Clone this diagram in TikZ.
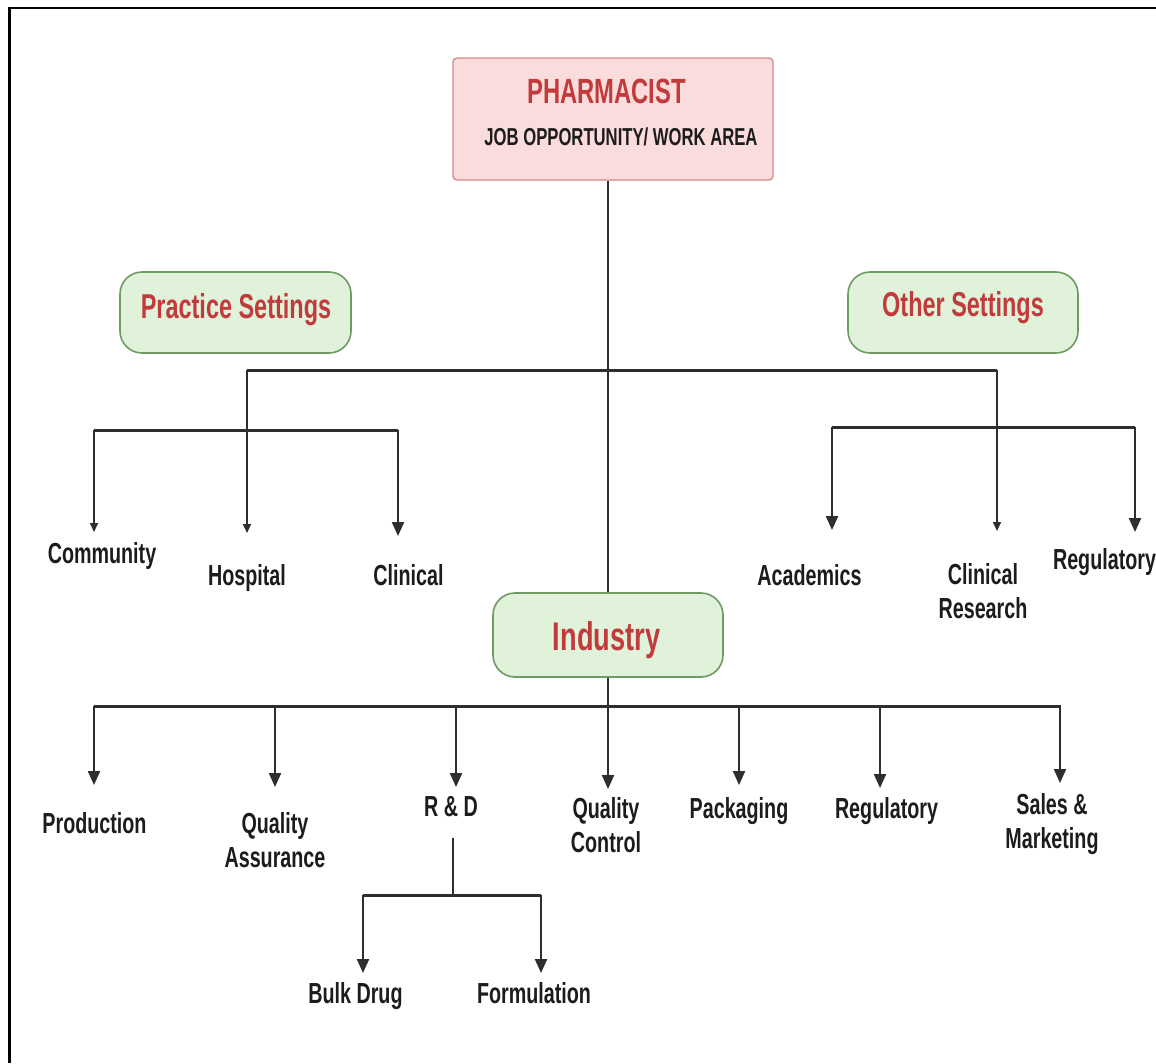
\documentclass[tikz,border=0pt]{standalone}
\usepackage{fontspec}
\setmainfont{Liberation Sans}[FakeStretch=0.68]
\usetikzlibrary{arrows.meta}

\definecolor{headred}{HTML}{C23B3C}
\definecolor{pinkfill}{HTML}{FADCDC}
\definecolor{pinkedge}{HTML}{D88A8C}
\definecolor{greenfill}{HTML}{E1F2DA}
\definecolor{greenedge}{HTML}{6F9A63}
\definecolor{inkgray}{HTML}{2E2E2E}
\definecolor{labelink}{HTML}{1C1C1C}

\tikzset{
  pinkbox/.style={draw=pinkedge, fill=pinkfill, line width=1.4, rounded corners=4, inner sep=0},
  greenbox/.style={draw=greenedge, fill=greenfill, line width=1.6, rounded corners=22, inner sep=0},
  headtext/.style={text=headred, inner sep=0, anchor=base},
  lbl/.style={font=\fontsize{29}{34}\selectfont\bfseries, text=labelink, align=center, inner sep=0, anchor=base},
  bar/.style={draw=inkgray, line width=3},
  ln/.style={draw=inkgray, line width=2.2},
  thinln/.style={draw=inkgray, line width=1.6},
  bigarrow/.style={ln, -{Triangle[width=12pt,length=14pt]}},
  smallarrow/.style={thinln, -{Triangle[width=8pt,length=9pt]}},
}

\begin{document}
\begin{tikzpicture}[x=1pt,y=-1pt]
\useasboundingbox (0,0) rectangle (1156,1063);
\fill[white] (0,0) rectangle (1156,1063);

% frame edges
\draw[line width=2.6, black] (9.4,1063) -- (9.4,7.8) -- (1156,7.8);

% boxes
\node[pinkbox, minimum width=320, minimum height=122] (pharm) at (613,119) {};
\node[greenbox, minimum width=231, minimum height=81] (prac) at (235.5,312.5) {};
\node[greenbox, minimum width=230, minimum height=81] (other) at (963,312.5) {};
\node[greenbox, minimum width=230, minimum height=84] (ind) at (608,635) {};

% box texts
\node[headtext, font=\fontsize{35}{40}\selectfont\bfseries] (pharmT) at (606.5,103.5) {PHARMACIST};
\node[anchor=base, inner sep=0, text=labelink, font=\fontsize{24.5}{28}\selectfont\bfseries] (jobT) at (621,145) {JOB OPPORTUNITY/ WORK AREA};
\node[headtext, font=\fontsize{34.5}{40}\selectfont\bfseries] (pracT) at (236,318) {Practice Settings};
\node[headtext, font=\fontsize{34.5}{40}\selectfont\bfseries] (otherT) at (963,316) {Other Settings};
\node[headtext, font=\fontsize{40}{46}\selectfont\bfseries] (indT) at (606.5,650) {Industry};

% leaf labels (anchor = baseline of the last line)
\node[lbl] (community) at (102,563) {Community};
\node[lbl] (hospital) at (247,585) {Hospital};
\node[lbl] (clinical) at (408.5,585) {Clinical};
\node[lbl] (academics) at (809.5,585) {Academics};
\node[lbl] (clinres) at (983,618) {Clinical\\Research};
\node[lbl] (regtop) at (1104.5,569) {Regulatory};

\node[lbl] (production) at (94.5,833) {Production};
\node[lbl] (qa) at (275,867) {Quality\\Assurance};
\node[lbl] (rd) at (451,816) {R \& D};
\node[lbl] (qc) at (606,852) {Quality\\Control};
\node[lbl] (packaging) at (739,818) {Packaging};
\node[lbl] (regind) at (886.5,818) {Regulatory};
\node[lbl] (sales) at (1052,848) {Sales \&\\Marketing};
\node[lbl] (bulk) at (355.5,1003) {Bulk Drug};
\node[lbl] (formulation) at (534,1003) {Formulation};

% junction points and arrow tips
\coordinate (pL) at (247,370);
\coordinate (pR) at (997,370);
\coordinate (hospTip) at (247,533);
\coordinate (crTip) at (997,531);
\coordinate (sL1) at (94,430);
\coordinate (sL2) at (398,430);
\coordinate (commTip) at (94,532);
\coordinate (clinTip) at (398,536);
\coordinate (sR1) at (832,427);
\coordinate (sR2) at (1135,427);
\coordinate (acadTip) at (832,530);
\coordinate (regTip) at (1135,532);

\coordinate (iL) at (94,706);
\coordinate (iR) at (1061,706);
\coordinate (qcTip) at (608,789);

\coordinate (rdTop) at (453,838);
\coordinate (rdJ) at (453,895);
\coordinate (rdL) at (363,895);
\coordinate (rdR) at (541,895);

% trunk
\draw[ln] (ind.north |- pharm.south) -- (ind.north);
\draw[bigarrow] (ind.south) -- (qcTip);

% practice / other settings branches
\draw[bar] (pL) -- (pR);
\draw[smallarrow] (pL) -- (hospTip);
\draw[smallarrow] (pR) -- (crTip);
\draw[bar] (sL1) -- (sL2);
\draw[smallarrow] (sL1) -- (commTip);
\draw[bigarrow] (sL2) -- (clinTip);
\draw[bar] (sR1) -- (sR2);
\draw[bigarrow] (sR1) -- (acadTip);
\draw[bigarrow] (sR2) -- (regTip);

% industry branches
\draw[bar] (iL) -- (iR);
\foreach \xx/\tip in {94/785, 275/787, 456/787, 739/785, 880/788, 1060/783}
  \draw[bigarrow] (\xx,706) -- (\xx,\tip);

% R & D split
\draw[ln] (rdTop) -- (rdJ);
\draw[bar] (rdL) -- (rdR);
\draw[bigarrow] (rdL) -- (363,973);
\draw[bigarrow] (rdR) -- (541,973);
\end{tikzpicture}
\end{document}
